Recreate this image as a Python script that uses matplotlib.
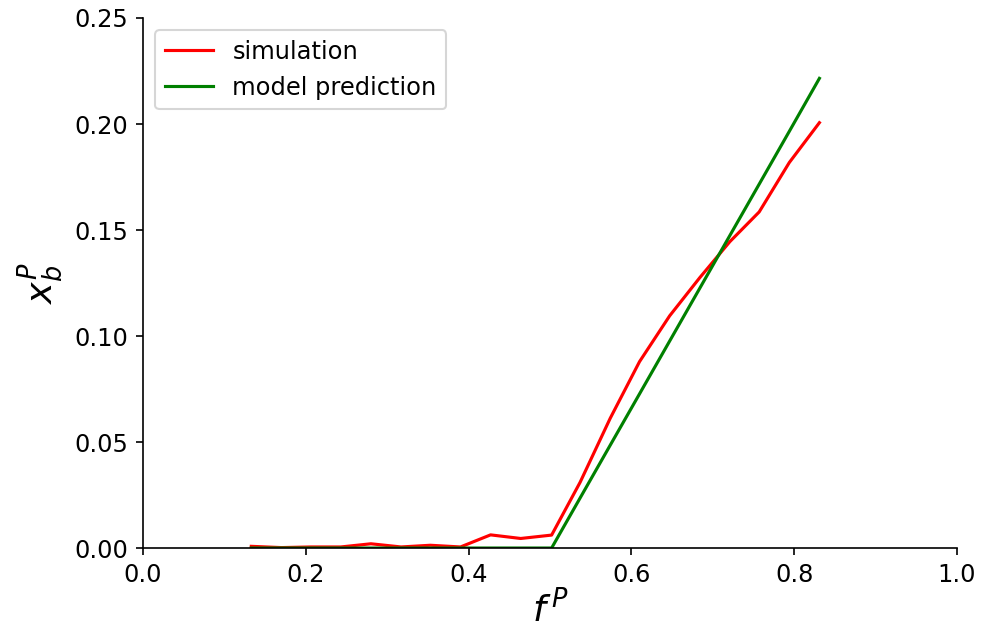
import matplotlib
matplotlib.use("Agg")
import matplotlib.pyplot as plt

# Fraction f^P (shared x grid for both curves)
F_P = [0.133, 0.170, 0.206, 0.243, 0.280, 0.317, 0.353, 0.390, 0.427, 0.464,
       0.502, 0.537, 0.574, 0.610, 0.647, 0.684, 0.721, 0.757, 0.794, 0.831]

# Simulated x_b^P
SIMULATION = [0.0008, 0.0002, 0.0005, 0.0005, 0.0020, 0.0005, 0.0013, 0.0005,
              0.0062, 0.0045, 0.0061, 0.0310, 0.0612, 0.0879, 0.1095, 0.1275,
              0.1445, 0.1585, 0.1818, 0.2006]

# Model prediction of x_b^P
MODEL = [0.0, 0.0, 0.0, 0.0, 0.0, 0.0, 0.0, 0.0, 0.0, 0.0,
         0.0, 0.0236, 0.0485, 0.0727, 0.0976, 0.1225, 0.1474, 0.1716, 0.1965,
         0.2215]

X_TICKS = [0.0, 0.2, 0.4, 0.6, 0.8, 1.0]
Y_TICKS = [0.00, 0.05, 0.10, 0.15, 0.20, 0.25]


def main():
    plt.rcParams["font.size"] = 11.6

    fig, ax = plt.subplots(figsize=(6.54, 4.207), dpi=150)
    fig.subplots_adjust(left=0.1458, right=0.9755, bottom=0.1315, top=0.9715)

    ax.plot(F_P, SIMULATION, color="red", label="simulation")
    ax.plot(F_P, MODEL, color="green", label="model prediction")

    ax.set_xlim(0, 1)
    ax.set_ylim(0, 0.25)
    ax.set_xticks(X_TICKS)
    ax.set_yticks(Y_TICKS)
    ax.set_xticklabels([f"{t:.1f}" for t in X_TICKS])
    ax.set_yticklabels([f"{t:.2f}" for t in Y_TICKS])

    ax.set_xlabel(r"$f^{\,P}$", fontsize=17.5, labelpad=1)
    ax.set_ylabel(r"$x_b^P$", fontsize=17.5, labelpad=4)

    ax.spines["top"].set_visible(False)
    ax.spines["right"].set_visible(False)

    ax.legend(loc="upper left")

    fig.savefig("out.png", dpi=150)


if __name__ == "__main__":
    main()
